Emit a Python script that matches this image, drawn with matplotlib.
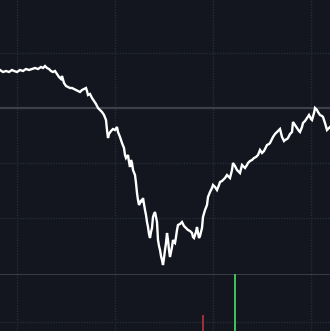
import matplotlib
matplotlib.use("Agg")
import matplotlib.pyplot as plt

# minute index along the session
minutes = [0, 3, 6, 9, 12, 14, 17, 20, 23, 26, 29, 32, 35, 38, 41, 43, 45, 47, 49, 51,
           53, 55, 57, 59, 61, 62, 64, 66, 68, 70, 72, 74, 76, 78, 80, 82, 84, 86, 87, 88,
           90, 92, 94, 96, 98, 100, 102, 104, 106, 107, 108, 109, 111, 113, 115, 117, 118, 120, 122, 124,
           125, 126, 128, 129, 130, 131, 132, 133, 135, 136, 137, 138, 139, 140, 141, 142, 143, 144, 145, 146,
           147, 148, 149, 150, 151, 152, 153, 154, 155, 156, 157, 158, 159, 160, 161, 162, 163, 164, 165, 166,
           167, 168, 169, 170, 171, 172, 173, 174, 175, 176, 177, 178, 180, 182, 184, 186, 188, 190, 192, 193,
           194, 196, 197, 198, 199, 200, 202, 203, 205, 207, 208, 210, 212, 213, 215, 217, 219, 220, 222, 223,
           225, 227, 229, 230, 232, 233, 235, 237, 239, 240, 242, 244, 245, 247, 248, 250, 252, 254, 256, 258,
           260, 262, 264, 265, 267, 269, 270, 272, 273, 275, 277, 279, 280, 281, 282, 284, 285, 287, 288, 290,
           292, 293, 295, 297, 299, 300, 302, 303, 305, 307, 309, 311, 312, 314, 315, 317, 318, 320, 322, 323,
           325, 327, 329, 330]

price = [12.38, 12.36, 12.37, 12.36, 12.38, 12.37, 12.36, 12.38, 12.37, 12.39, 12.38, 12.39, 12.40, 12.39, 12.41, 12.40, 12.42, 12.40, 12.39, 12.37,
         12.36, 12.37, 12.34, 12.31, 12.29, 12.32, 12.25, 12.22, 12.21, 12.20, 12.20, 12.19, 12.18, 12.17, 12.16, 12.18, 12.19, 12.20, 12.17, 12.13,
         12.14, 12.10, 12.07, 12.04, 12.00, 11.98, 11.96, 11.93, 11.88, 11.78, 11.70, 11.74, 11.77, 11.79, 11.78, 11.81, 11.76, 11.71, 11.65, 11.60,
         11.53, 11.50, 11.53, 11.46, 11.41, 11.48, 11.45, 11.38, 11.33, 11.25, 11.15, 11.08, 11.03, 11.05, 11.08, 11.06, 11.10, 11.04, 10.98, 10.93,
         10.86, 10.81, 10.74, 10.70, 10.76, 10.80, 10.91, 10.94, 10.96, 10.91, 10.86, 10.68, 10.62, 10.58, 10.52, 10.48, 10.43, 10.50, 10.58, 10.65,
         10.75, 10.68, 10.58, 10.51, 10.56, 10.61, 10.68, 10.66, 10.65, 10.71, 10.78, 10.83, 10.84, 10.86, 10.82, 10.80, 10.78, 10.77, 10.75, 10.71,
         10.70, 10.76, 10.81, 10.75, 10.70, 10.72, 10.80, 10.91, 10.98, 11.03, 11.11, 11.16, 11.20, 11.23, 11.21, 11.18, 11.23, 11.26, 11.27, 11.28,
         11.30, 11.33, 11.31, 11.30, 11.38, 11.45, 11.42, 11.38, 11.36, 11.35, 11.43, 11.41, 11.40, 11.43, 11.45, 11.47, 11.48, 11.50, 11.51, 11.53,
         11.58, 11.55, 11.57, 11.59, 11.63, 11.64, 11.65, 11.69, 11.71, 11.74, 11.76, 11.78, 11.79, 11.75, 11.71, 11.67, 11.68, 11.69, 11.70, 11.74,
         11.76, 11.86, 11.83, 11.80, 11.77, 11.76, 11.81, 11.85, 11.87, 11.90, 11.93, 11.89, 11.88, 11.95, 12.00, 11.98, 11.96, 11.93, 11.92, 11.91,
         11.85, 11.78, 11.80, 11.81]

prev_close = 12.00
price_grid = [12.55, 11.45, 10.90]
time_grid = [17, 115, 213, 311]

vol_minutes = [203, 235]
volume = [2800, 10000]
vol_colors = ["#9a2f38", "#3fbf5a"]

bg = "#13161f"
grid_c = "#262b38"

fig = plt.figure(figsize=(3.30, 3.31), dpi=100, facecolor=bg)
ax_p = fig.add_axes([0, 57 / 331, 1, 274 / 331], facecolor=bg)
ax_v = fig.add_axes([0, 0, 1, 57 / 331], facecolor=bg)

for ax in (ax_p, ax_v):
    ax.set_xlim(0, 330)
    for s in ax.spines.values():
        s.set_visible(False)
    ax.set_xticks([])
    ax.set_yticks([])
    for t in time_grid:
        ax.axvline(t, color=grid_c, lw=1.0, ls=(0, (1, 1)), zorder=0)

ax_p.set_ylim(10.34, 13.08)
for g in price_grid:
    ax_p.axhline(g, color=grid_c, lw=1.0, ls=(0, (1, 1)), zorder=0)
ax_p.axhline(prev_close, color="#3d4049", lw=1.6, zorder=1)
ax_p.plot(minutes, price, color="white", lw=1.7, zorder=3, solid_joinstyle="miter")

ax_v.set_ylim(0, 10000)
ax_v.axhline(10000, color="#3a3d47", lw=1.4, zorder=1)
ax_v.axhline(1580, color=grid_c, lw=1.0, ls=(0, (1, 1)), zorder=0)
ax_v.bar(vol_minutes, volume, width=1.4, color=vol_colors, zorder=2)

fig.savefig("out.png", dpi=100, facecolor=bg)
